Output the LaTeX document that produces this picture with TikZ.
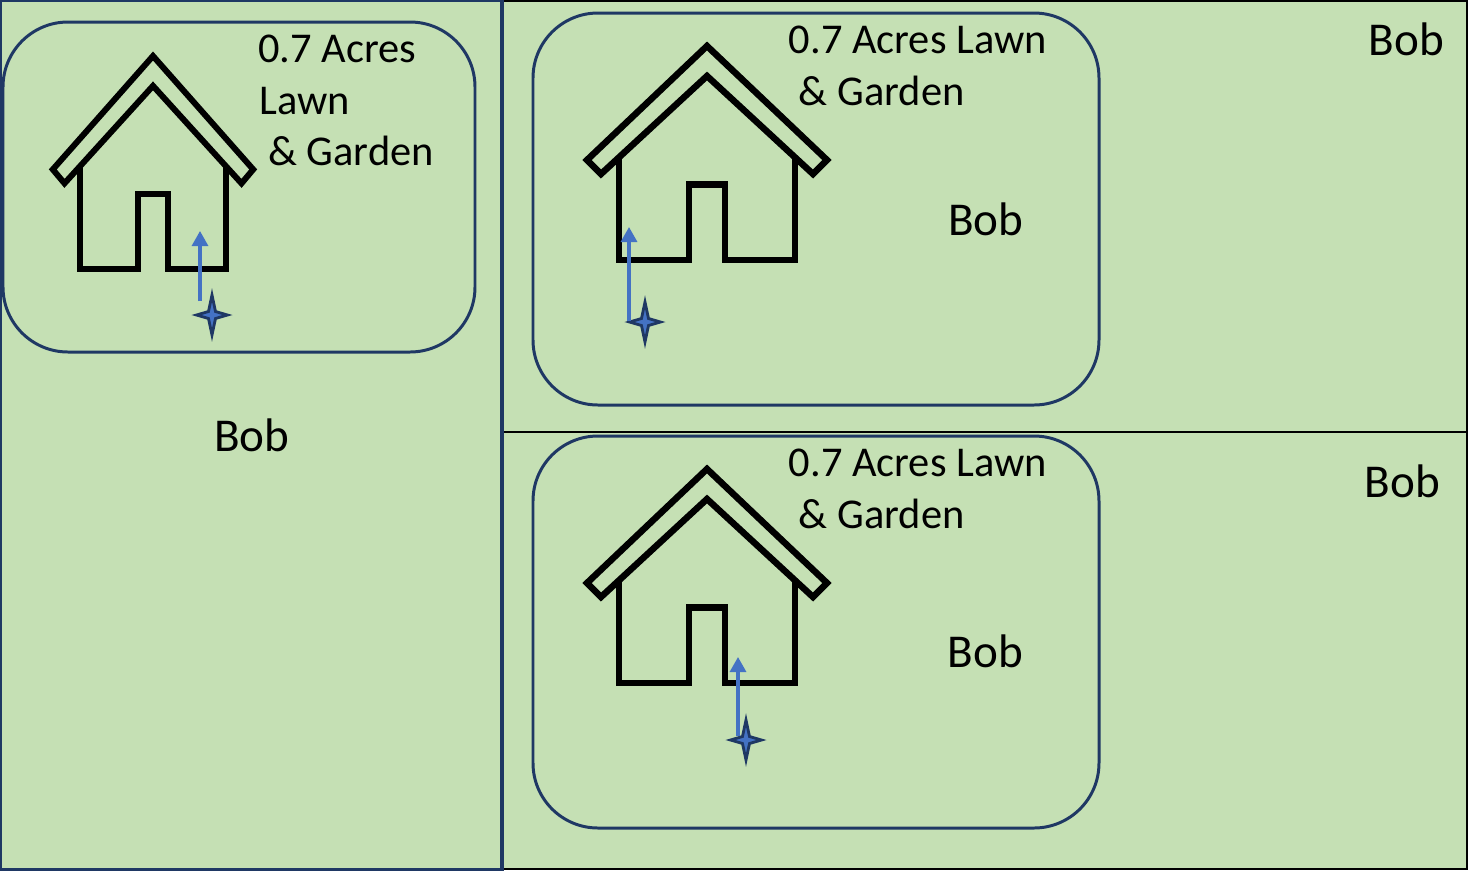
\documentclass[tikz,border=0pt]{standalone}
\usepackage{fontspec}
\setmainfont{Carlito}
\usetikzlibrary{arrows.meta}
\definecolor{panelgreen}{HTML}{C5E0B4}
\definecolor{navyline}{HTML}{1F3864}
\definecolor{arrowblue}{HTML}{4472C4}

\begin{document}
\begin{tikzpicture}[x=0.02cm, y=-0.02cm,
		panel_style/.style={fill=panelgreen,draw=navyline,line width=1.9pt},
		panel_style1/.style={fill=panelgreen,draw=black,line width=1.2pt},
		lot_style/.style={draw=navyline,line width=1.7pt,rounded corners=1.3cm},
		small_style/.style={anchor=base west,inner sep=0pt,font=\fontsize{24.15}{28}\selectfont},
		bob_style/.style={anchor=base west,inner sep=0pt,font=\fontsize{26.8}{30}\selectfont},
		edge_style/.style={draw=arrowblue,line width=1.8pt,-{Triangle[length=0.3cm,width=0.32cm]}},
		house_pic/.pic={
			\draw[black,miter limit=10] (0,0) -- (120,114) -- (106,128) -- (0,30) -- (-106,128) -- (-120,114) -- cycle;
			\draw[black,miter limit=10] (-88,111) -- (-88,214) -- (-18,214) -- (-18,138.5) -- (18,138.5) -- (18,214) -- (88,214) -- (88,111);
		},
		star_pic/.pic={
			\draw[draw=navyline,fill=arrowblue,line width=1.6pt,miter limit=8] (0,-20) -- (3.5,-3.5) -- (15.5,0) -- (3.5,3.5) -- (0,20) -- (-3.5,3.5) -- (-15.5,0) -- (-3.5,-3.5) -- cycle;
		}]
		\useasboundingbox (0,0) rectangle (1468,870);

		% the three plots
		\path[panel_style1] (502,1) rectangle (1467,432);
		\path[panel_style1] (502,432) rectangle (1467,869);
		\path[panel_style] (0,0) rectangle (502,870);

		% lawns
		\path[lot_style] (3,22) rectangle (475,352);
		\path[lot_style] (533,13) rectangle (1099,405);
		\path[lot_style] (533,436) rectangle (1099,828);

		% houses
		\pic[xscale=0.835,yscale=0.995,line width=3.4pt] at (153,56) {house_pic};
		\pic[line width=3.7pt] at (707,46) {house_pic};
		\pic[line width=3.7pt] at (707,469) {house_pic};

		% texts
		\node[small_style] (t0) at (258,62)  {0.7 Acres};
		\node[small_style] (t1) at (259,114)  {Lawn};
		\node[small_style] (t2) at (268,165)  {\& Garden};
		\node[small_style] (t3) at (788.5,53)  {0.7 Acres Lawn};
		\node[small_style] (t4) at (798.5,105)  {\& Garden};
		\node[small_style] (t5) at (788.5,476)  {0.7 Acres Lawn};
		\node[small_style] (t6) at (798.5,528)  {\& Garden};

		\node[bob_style] (b0) at (214,451)  {Bob};
		\node[bob_style] (b1) at (948,235)  {Bob};
		\node[bob_style] (b2) at (1368.5,55)  {Bob};
		\node[bob_style] (b3) at (947.5,667)  {Bob};
		\node[bob_style] (b4) at (1364.5,497)  {Bob};

		% stars and arrows
		\pic at (212,315) {star_pic};
		\pic at (645,322) {star_pic};
		\pic at (746,740) {star_pic};

		\coordinate (a0) at (200,301);
		\coordinate (c0) at (200,231);
		\coordinate (a1) at (629,321);
		\coordinate (c1) at (629,227);
		\coordinate (a2) at (738,736);
		\coordinate (c2) at (738,657);

		\draw[edge_style]  (a0) -- (c0);
		\draw[edge_style]  (a1) -- (c1);
		\draw[edge_style]  (a2) -- (c2);
		\end{tikzpicture}
\end{document}
